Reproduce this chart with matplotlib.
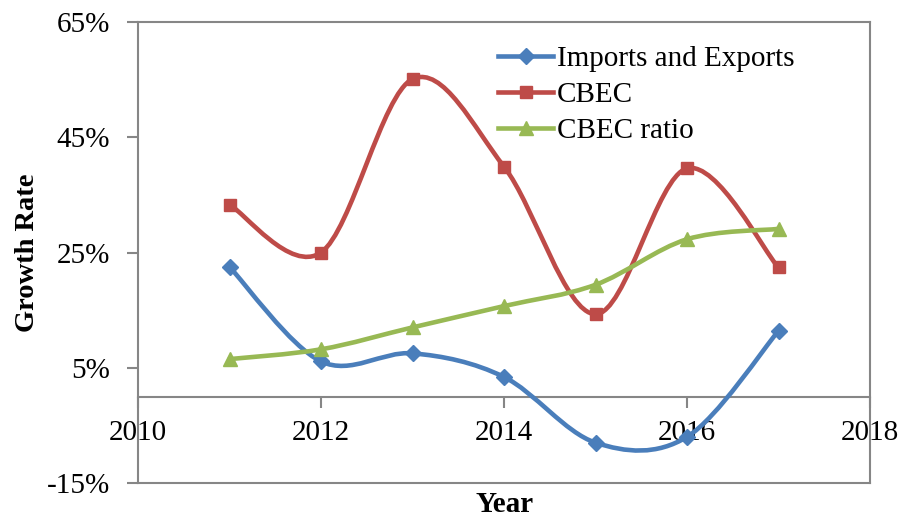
import matplotlib
matplotlib.use("Agg")
import matplotlib.pyplot as plt
from matplotlib.path import Path
from matplotlib.patches import PathPatch
from matplotlib.lines import Line2D
from matplotlib.ticker import FuncFormatter

plt.rcParams['font.family'] = ['Liberation Serif', 'DejaVu Serif']

years = [2011, 2012, 2013, 2014, 2015, 2016, 2017]
imports_exports = [22.5, 6.1, 7.5, 3.4, -8.0, -7.0, 11.4]
cbec = [33.3, 25.0, 55.1, 39.9, 14.3, 39.6, 22.4]
cbec_ratio = [6.5, 8.2, 12.0, 15.7, 19.4, 27.3, 29.1]

labels = ['Imports and Exports', 'CBEC', 'CBEC ratio']
colors = ['#4A7EBB', '#BE4B48', '#98B954']
markers = ['D', 's', '^']
msizes = [8.5, 8, 10]
xticks = [2010, 2012, 2014, 2016, 2018]
yticks = [-15, 5, 25, 45, 65]


def smooth_path(xs, ys):
    # excel-like smoothed line (catmull-rom as cubic bezier)
    pts = list(zip(xs, ys))
    n = len(pts)
    verts = [pts[0]]
    codes = [Path.MOVETO]
    for i in range(n - 1):
        p0 = pts[i - 1] if i > 0 else pts[i]
        p1 = pts[i]
        p2 = pts[i + 1]
        p3 = pts[i + 2] if i + 2 < n else pts[i + 1]
        c1 = (p1[0] + (p2[0] - p0[0]) / 6, p1[1] + (p2[1] - p0[1]) / 6)
        c2 = (p2[0] - (p3[0] - p1[0]) / 6, p2[1] - (p3[1] - p1[1]) / 6)
        verts += [c1, c2, p2]
        codes += [Path.CURVE4] * 3
    return Path(verts, codes)


fig = plt.figure(figsize=(9.03, 5.2), dpi=100)
ax = fig.add_axes([138 / 903, 1 - 483 / 520, 732 / 903, 461 / 520])

handles = []
for ys, lab, c, m, ms in zip([imports_exports, cbec, cbec_ratio], labels, colors, markers, msizes):
    ax.add_patch(PathPatch(smooth_path(years, ys), facecolor='none', edgecolor=c,
                           lw=3.3, capstyle='round', zorder=3))
    ax.plot(years, ys, linestyle='none', marker=m, ms=ms, color=c, zorder=4)
    handles.append(Line2D([], [], color=c, lw=3.3, marker=m, ms=ms))

ax.set_xlim(2010, 2018)
ax.set_ylim(-15, 65)
ax.set_xticks(xticks)
ax.set_yticks(yticks)
ax.yaxis.set_major_formatter(FuncFormatter(lambda v, p: f'{v:.0f}%'))

grey = '#868686'
for s in ['top', 'left', 'right']:
    ax.spines[s].set_color(grey)
    ax.spines[s].set_linewidth(1.5)
ax.spines['bottom'].set_position(('data', 0))
ax.spines['bottom'].set_color(grey)
ax.spines['bottom'].set_linewidth(1.5)
ax.plot([0, 1], [0, 0], transform=ax.transAxes, color=grey, lw=1.5, clip_on=False)

ax.tick_params(axis='both', direction='out', color=grey, width=1.5, length=8, labelsize=21)
ax.tick_params(axis='x', pad=9)
ax.tick_params(axis='y', pad=12)

ax.set_ylabel('Growth Rate', fontsize=20.5, fontweight='bold', labelpad=5)
fig.text(505 / 903, 1 - 505 / 520, 'Year', fontsize=21, fontweight='bold',
         ha='center', va='center')

ax.legend(handles, labels, loc='upper left', bbox_to_anchor=(0.4918, 0.948),
          frameon=False, fontsize=21, handlelength=1.9, handletextpad=0.12,
          labelspacing=0.33, borderaxespad=0, borderpad=0)

fig.savefig('out.png', dpi=100)
